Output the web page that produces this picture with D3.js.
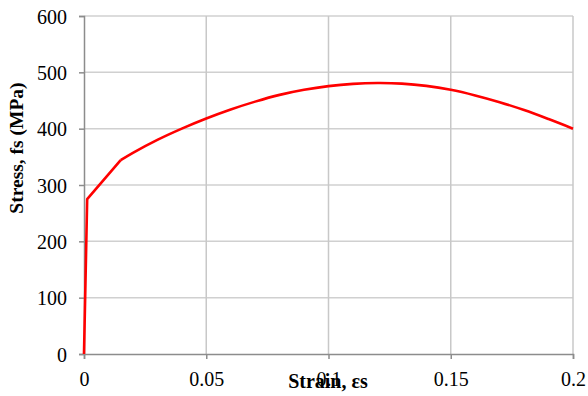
<!DOCTYPE html>
<html>
<head>
<meta charset="utf-8">
<style>
  body { margin: 0; background: #fff; }
  text { font-family: "Liberation Serif", "Times New Roman", serif; fill: #000; }
</style>
</head>
<body>
<svg width="588" height="396"></svg>
<script src="https://cdn.jsdelivr.net/npm/d3@7/dist/d3.min.js"></script>
<script>

// strain (-) and stress (MPa)
var strain = [0, 0.0013, 0.015, 0.02, 0.03, 0.04, 0.05, 0.06, 0.07, 0.08, 0.09, 0.10,
              0.11, 0.12, 0.13, 0.14, 0.15, 0.16, 0.17, 0.18, 0.19, 0.20];
var stress = [0, 275, 344, 357, 380, 400, 418, 434, 448, 460, 469, 475.5,
              479.5, 481, 480, 476, 469, 459, 447, 433, 417, 400];

var xTicks = [0, 0.05, 0.1, 0.15, 0.2];
var yTicks = [0, 100, 200, 300, 400, 500, 600];

var margin = {left: 84, right: 15, top: 16, bottom: 42};
var width = 588, height = 396;

var svg = d3.select("svg");

var x = d3.scaleLinear().domain([0, 0.2]).range([margin.left, width - margin.right]);
var y = d3.scaleLinear().domain([0, 600]).range([height - margin.bottom, margin.top]);

// gridlines
svg.append("g").selectAll("line")
  .data(yTicks.slice(1))
  .enter().append("line")
  .attr("x1", x(0)).attr("x2", x(0.2))
  .attr("y1", function(d) { return y(d); })
  .attr("y2", function(d) { return y(d); })
  .style("stroke", "#d0d0d0").style("stroke-width", 1.5);

svg.append("g").selectAll("line")
  .data(xTicks.slice(1))
  .enter().append("line")
  .attr("y1", y(0)).attr("y2", y(600))
  .attr("x1", function(d) { return x(d); })
  .attr("x2", function(d) { return x(d); })
  .style("stroke", "#c8c8c8").style("stroke-width", 1.5);

// axes
var xAxis = svg.append("g")
  .attr("transform", "translate(0," + y(0) + ")")
  .call(d3.axisBottom(x).tickValues(xTicks).tickSize(5).tickPadding(13)
        .tickFormat(function(d) { return d === 0 ? "0" : d3.format("")(+d.toFixed(2)); }));

var yAxis = svg.append("g")
  .attr("transform", "translate(" + x(0) + ",0)")
  .call(d3.axisLeft(y).tickValues(yTicks).tickSize(5).tickPadding(12));

[xAxis, yAxis].forEach(function(a) {
  a.select(".domain").style("stroke", "#8c8c8c").style("stroke-width", 1.5);
  a.selectAll(".tick line").style("stroke", "#8c8c8c").style("stroke-width", 1.5);
  a.selectAll("text").style("font-family", "Liberation Serif").style("font-size", "20px");
});
yAxis.selectAll("text").attr("dy", "0.35em");

// the curve: straight elastic part, smooth after the knee
var pts = strain.map(function(d, i) { return [d, stress[i]]; });

var lin = d3.line().x(function(d) { return x(d[0]); }).y(function(d) { return y(d[1]); });
var smooth = d3.line().curve(d3.curveCatmullRom.alpha(0.5))
  .x(function(d) { return x(d[0]); }).y(function(d) { return y(d[1]); });

svg.append("path")
  .attr("d", lin(pts.slice(0, 3)))
  .style("fill", "none").style("stroke", "#ff0000").style("stroke-width", 2.6)
  .style("stroke-linejoin", "round");

svg.append("path")
  .attr("d", smooth(pts.slice(2)))
  .style("fill", "none").style("stroke", "#ff0000").style("stroke-width", 2.6)
  .style("stroke-linejoin", "round");

// axis titles
svg.append("text")
  .attr("x", 328).attr("y", 388)
  .attr("text-anchor", "middle")
  .style("font-size", "20px").style("font-weight", "bold")
  .text("Strain, εs");

svg.append("text")
  .attr("transform", "translate(23,148) rotate(-90)")
  .attr("text-anchor", "middle")
  .style("font-size", "19.5px").style("font-weight", "bold")
  .text("Stress, fs (MPa)");

</script>
</body>
</html>
